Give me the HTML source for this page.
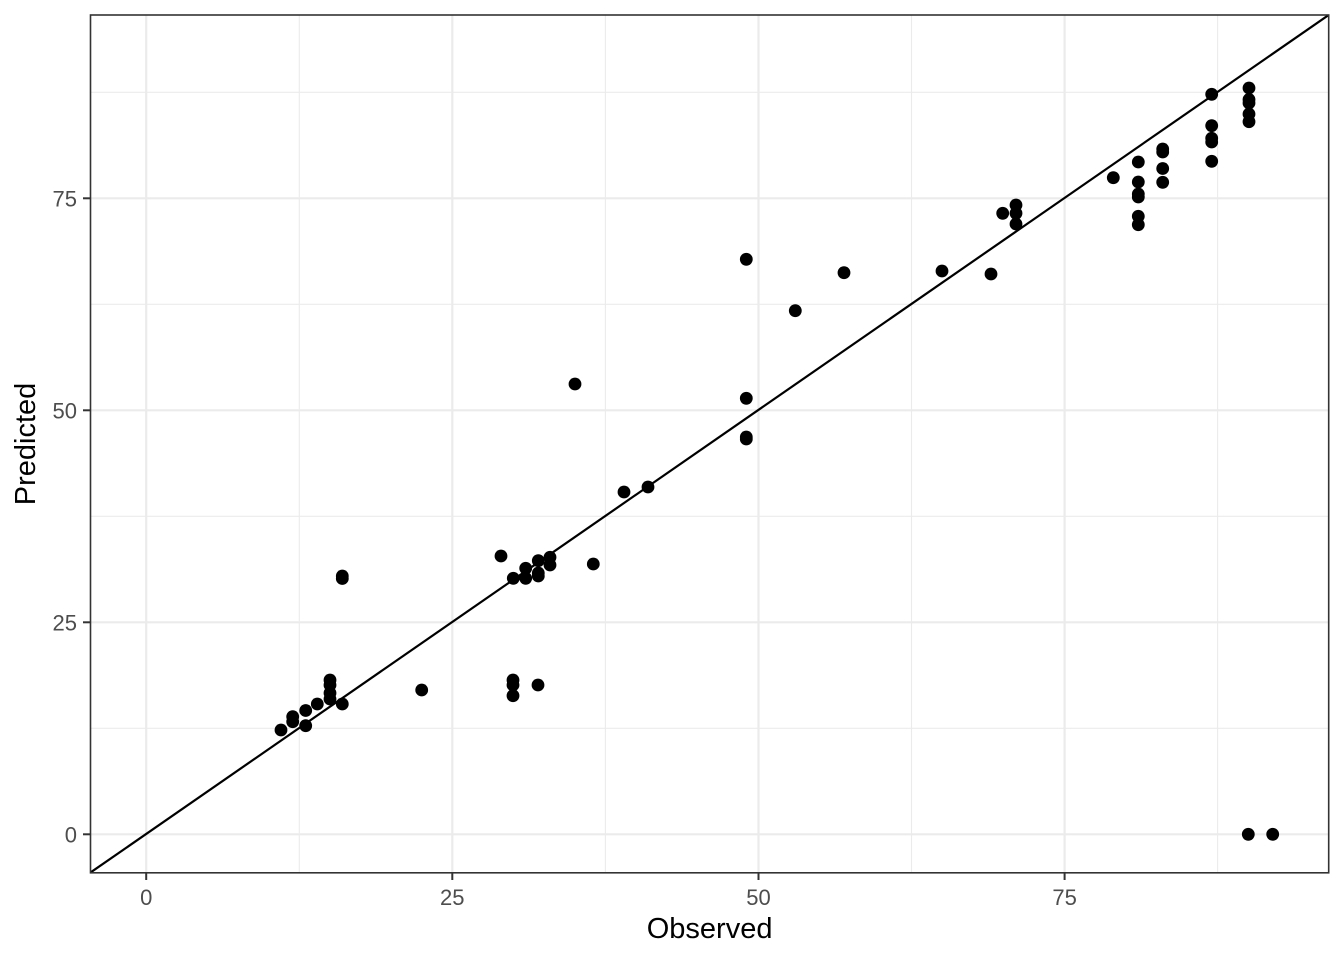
<!DOCTYPE html>
<html>
<head>
<meta charset="utf-8">
<style>
html,body{margin:0;padding:0;background:#fff;}
svg{display:block;}
text{font-family:"Liberation Sans",Arial,Helvetica,sans-serif;}
</style>
</head>
<body>
<svg width="1344" height="960" viewBox="0 0 1344 960" xmlns="http://www.w3.org/2000/svg">
<defs>
<clipPath id="panel"><rect x="90.5" y="15" width="1238.2" height="857.8"/></clipPath>
</defs>
<rect x="0" y="0" width="1344" height="960" fill="#ffffff"/>
<g clip-path="url(#panel)">
<g stroke="#EBEBEB" stroke-width="1.1">
<line x1="299.3" y1="15" x2="299.3" y2="873"/>
<line x1="605.4" y1="15" x2="605.4" y2="873"/>
<line x1="911.5" y1="15" x2="911.5" y2="873"/>
<line x1="1217.6" y1="15" x2="1217.6" y2="873"/>
<line x1="90" y1="728.3" x2="1329" y2="728.3"/>
<line x1="90" y1="516.3" x2="1329" y2="516.3"/>
<line x1="90" y1="304.3" x2="1329" y2="304.3"/>
<line x1="90" y1="92.3" x2="1329" y2="92.3"/>
</g>
<g stroke="#EBEBEB" stroke-width="2.2">
<line x1="146.2" y1="15" x2="146.2" y2="873"/>
<line x1="452.3" y1="15" x2="452.3" y2="873"/>
<line x1="758.5" y1="15" x2="758.5" y2="873"/>
<line x1="1064.6" y1="15" x2="1064.6" y2="873"/>
<line x1="90" y1="834.3" x2="1329" y2="834.3"/>
<line x1="90" y1="622.3" x2="1329" y2="622.3"/>
<line x1="90" y1="410.3" x2="1329" y2="410.3"/>
<line x1="90" y1="198.3" x2="1329" y2="198.3"/>
</g>
<g fill="#000000">
<circle cx="281" cy="730" r="6.4"/>
<circle cx="292.7" cy="716.7" r="6.4"/>
<circle cx="292.7" cy="721.7" r="6.4"/>
<circle cx="305.7" cy="710.5" r="6.4"/>
<circle cx="305.7" cy="725.7" r="6.4"/>
<circle cx="317.3" cy="704" r="6.4"/>
<circle cx="330" cy="680" r="6.4"/>
<circle cx="330" cy="685" r="6.4"/>
<circle cx="330" cy="693" r="6.4"/>
<circle cx="330" cy="699" r="6.4"/>
<circle cx="342.3" cy="704" r="6.4"/>
<circle cx="342.3" cy="576" r="6.4"/>
<circle cx="342.3" cy="578.5" r="6.4"/>
<circle cx="421.7" cy="690" r="6.4"/>
<circle cx="501" cy="556" r="6.4"/>
<circle cx="513.3" cy="578.3" r="6.4"/>
<circle cx="525.7" cy="568.3" r="6.4"/>
<circle cx="525.7" cy="578.3" r="6.4"/>
<circle cx="538.3" cy="560.7" r="6.4"/>
<circle cx="538.3" cy="573" r="6.4"/>
<circle cx="538.3" cy="576" r="6.4"/>
<circle cx="550" cy="557.3" r="6.4"/>
<circle cx="550" cy="565" r="6.4"/>
<circle cx="513" cy="680" r="6.4"/>
<circle cx="513" cy="685" r="6.4"/>
<circle cx="513" cy="695.7" r="6.4"/>
<circle cx="538" cy="685" r="6.4"/>
<circle cx="593.3" cy="564" r="6.4"/>
<circle cx="575" cy="384" r="6.4"/>
<circle cx="624" cy="492" r="6.4"/>
<circle cx="648" cy="487" r="6.4"/>
<circle cx="746.3" cy="259.3" r="6.4"/>
<circle cx="746.3" cy="398.3" r="6.4"/>
<circle cx="746.3" cy="437" r="6.4"/>
<circle cx="746.3" cy="439" r="6.4"/>
<circle cx="795.3" cy="310.7" r="6.4"/>
<circle cx="844" cy="272.7" r="6.4"/>
<circle cx="942" cy="271" r="6.4"/>
<circle cx="991" cy="274" r="6.4"/>
<circle cx="1002.7" cy="213.3" r="6.4"/>
<circle cx="1016" cy="205" r="6.4"/>
<circle cx="1016" cy="213.3" r="6.4"/>
<circle cx="1016" cy="224" r="6.4"/>
<circle cx="1113.3" cy="177.7" r="6.4"/>
<circle cx="1138.3" cy="162" r="6.4"/>
<circle cx="1138.3" cy="182" r="6.4"/>
<circle cx="1138.3" cy="194" r="6.4"/>
<circle cx="1138.3" cy="197" r="6.4"/>
<circle cx="1138.3" cy="216.3" r="6.4"/>
<circle cx="1138.3" cy="224.7" r="6.4"/>
<circle cx="1162.7" cy="149" r="6.4"/>
<circle cx="1162.7" cy="152" r="6.4"/>
<circle cx="1162.7" cy="168.5" r="6.4"/>
<circle cx="1162.7" cy="182.3" r="6.4"/>
<circle cx="1211.7" cy="94.3" r="6.4"/>
<circle cx="1211.7" cy="125.7" r="6.4"/>
<circle cx="1211.7" cy="138.3" r="6.4"/>
<circle cx="1211.7" cy="142" r="6.4"/>
<circle cx="1211.7" cy="161.3" r="6.4"/>
<circle cx="1249" cy="88" r="6.4"/>
<circle cx="1249" cy="99.5" r="6.4"/>
<circle cx="1249" cy="103" r="6.4"/>
<circle cx="1249" cy="114" r="6.4"/>
<circle cx="1249" cy="121.7" r="6.4"/>
<circle cx="1248.3" cy="834.3" r="6.4"/>
<circle cx="1272.7" cy="834.3" r="6.4"/>
</g>
<line x1="29.3" y1="914.9" x2="1389.9" y2="-27.4" stroke="#000000" stroke-width="2.2"/>
</g>
<rect x="90.5" y="15" width="1238.2" height="857.8" fill="none" stroke="#333333" stroke-width="1.6"/>
<g stroke="#333333" stroke-width="2">
<line x1="146.2" y1="873" x2="146.2" y2="880"/>
<line x1="452.3" y1="873" x2="452.3" y2="880"/>
<line x1="758.5" y1="873" x2="758.5" y2="880"/>
<line x1="1064.6" y1="873" x2="1064.6" y2="880"/>
<line x1="83" y1="834.3" x2="90.5" y2="834.3"/>
<line x1="83" y1="622.3" x2="90.5" y2="622.3"/>
<line x1="83" y1="410.3" x2="90.5" y2="410.3"/>
<line x1="83" y1="198.3" x2="90.5" y2="198.3"/>
</g>
<g fill="#4D4D4D" font-size="22">
<text x="146.2" y="905" text-anchor="middle">0</text>
<text x="452.3" y="905" text-anchor="middle">25</text>
<text x="758.5" y="905" text-anchor="middle">50</text>
<text x="1064.6" y="905" text-anchor="middle">75</text>
<text x="77" y="842.5" text-anchor="end">0</text>
<text x="77" y="630.5" text-anchor="end">25</text>
<text x="77" y="418.5" text-anchor="end">50</text>
<text x="77" y="206.5" text-anchor="end">75</text>
</g>
<text x="709.6" y="938" text-anchor="middle" font-size="29" fill="#000000">Observed</text>
<text transform="translate(35,444) rotate(-90)" x="0" y="0" text-anchor="middle" font-size="29" fill="#000000">Predicted</text>
</svg>
</body>
</html>
